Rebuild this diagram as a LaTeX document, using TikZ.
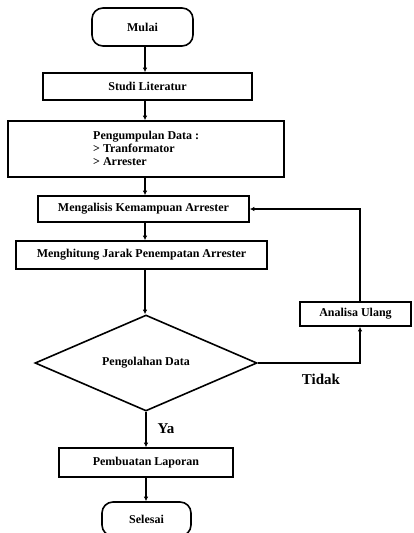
\documentclass[tikz,border=0pt]{standalone}
\usepackage{fontspec}
\setmainfont{Liberation Serif}
\usetikzlibrary{shapes.geometric,arrows.meta}
\begin{document}
\begin{tikzpicture}[x=1pt,y=-1pt,
  every node/.style={font=\bfseries\fontsize{12}{14}\selectfont},
  box/.style={draw, line width=1.6pt, rectangle, inner sep=0pt},
  term/.style={draw, line width=1.6pt, rectangle, rounded corners=11pt, inner sep=0pt},
  dec/.style={draw, line width=1.6pt, diamond, aspect=2.31, inner sep=0pt},
  lbl/.style={font=\bfseries\fontsize{15}{17}\selectfont, inner sep=0pt},
  arr/.style={line width=1.3pt, -{Latex[length=4.5pt,width=4.5pt]}},
  ln/.style={line width=1.3pt}]
\useasboundingbox (0,0) rectangle (413,533);
\coordinate (ax) at (145,0);
\coordinate (vx) at (360,0);
\node[term, minimum width=101pt, minimum height=38pt] (mulai) at (142.5,27) {Mulai};
\node[box, minimum width=209pt, minimum height=27pt] (studi) at (147.5,86.5) {Studi Literatur};
\node[box, minimum width=276pt, minimum height=56pt] (pd) at (146,149) {};
\node[anchor=west, align=left, inner sep=0pt, font=\bfseries\fontsize{12}{13.2}\selectfont] (pdtext) at (93,148.5) {Pengumpulan Data :\\> Tranformator\\> Arrester};
\node[box, minimum width=211pt, minimum height=26pt] (analisis) at (143.5,209) {Mengalisis Kemampuan Arrester};
\node[box, minimum width=251pt, minimum height=28pt] (hitung) at (141.5,255) {Menghitung Jarak Penempatan Arrester};
\node[dec, minimum width=222pt, minimum height=96pt] (olah) at (146,363) {Pengolahan Data};
\node[box, minimum width=111pt, minimum height=24pt] (ulang) at (355.5,314) {Analisa Ulang};
\node[box, minimum width=174pt, minimum height=29pt] (lapor) at (146,462.5) {Pembuatan Laporan};
\node[term, minimum width=89pt, minimum height=34pt] (selesai) at (146.5,519) {Selesai};
\node[lbl] (tidak) at (321,379) {Tidak};
\node[lbl] (ya) at (166,429) {Ya};
\draw[arr] (mulai.south -| ax) -- (studi.north -| ax);
\draw[arr] (studi.south -| ax) -- (pd.north -| ax);
\draw[arr] (pd.south -| ax) -- (analisis.north -| ax);
\draw[arr] (analisis.south -| ax) -- (hitung.north -| ax);
\draw[arr] (hitung.south -| ax) -- (olah.north -| ax);
\draw[arr] (olah.south) -- (lapor.north -| olah.south);
\draw[arr] (lapor.south -| olah.south) -- (selesai.north -| olah.south);
\draw[arr] (olah.east) -| (ulang.south -| vx);
\draw[arr] (ulang.north -| vx) |- (analisis.east);
\end{tikzpicture}
\end{document}
